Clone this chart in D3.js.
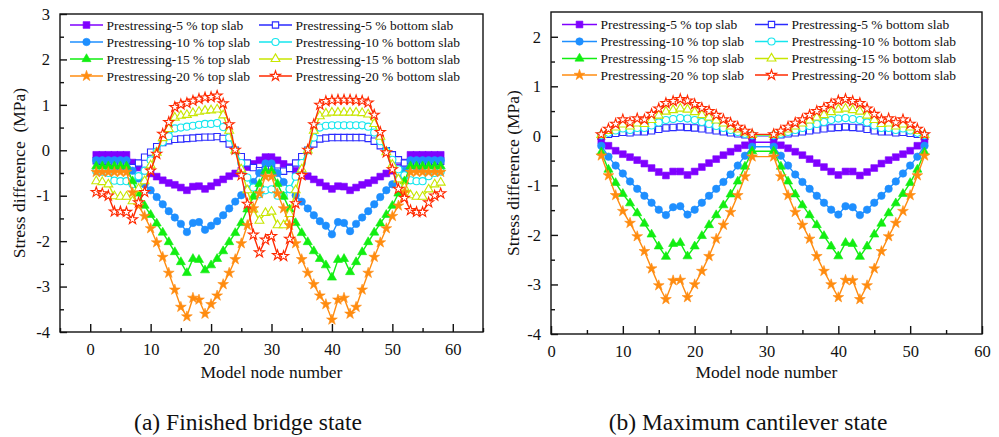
<!DOCTYPE html>
<html><head><meta charset="utf-8">
<script src="https://cdn.jsdelivr.net/npm/d3@7"></script>
<style>
body{margin:0;background:#fff}
svg{display:block}
text{font-family:"Liberation Serif","Times New Roman",serif;fill:#111}
</style>
</head><body>
<svg id="c" width="999" height="437"></svg>
<script>
// ---------------- DATA ----------------
const nodesA = [1,2,3,4,5,6,7,8,9,10,11,12,13,14,15,16,17,18,19,20,21,22,23,24,25,26,27,28,29,30,31,32,33,34,35,36,37,38,39,40,41,42,43,44,45,46,47,48,49,50,51,52,53,54,55,56,57,58];
const nodesB = [7,8,9,10,11,12,13,14,15,16,17,18,19,20,21,22,23,24,25,26,27,28,31,32,33,34,35,36,37,38,39,40,41,42,43,44,45,46,47,48,49,50,51,52];

const seriesNames = ["Prestressing-5 % top slab","Prestressing-5 % bottom slab","Prestressing-10 % top slab","Prestressing-10 % bottom slab","Prestressing-15 % top slab","Prestressing-15 % bottom slab","Prestressing-20 % top slab","Prestressing-20 % bottom slab"];

// (a) Finished bridge state
const topA5 = [-0.10,-0.10,-0.10,-0.10,-0.10,-0.10,-0.27,-0.38,-0.45,-0.51,-0.58,-0.66,-0.72,-0.76,-0.82,-0.88,-0.80,-0.79,-0.85,-0.79,-0.71,-0.64,-0.57,-0.51,-0.45,-0.37,-0.30,-0.22,-0.15,
  -0.15,-0.22,-0.30,-0.37,-0.45,-0.51,-0.57,-0.64,-0.71,-0.79,-0.85,-0.79,-0.80,-0.88,-0.82,-0.76,-0.72,-0.66,-0.58,-0.51,-0.45,-0.38,-0.27,-0.10,-0.10,-0.10,-0.10,-0.10,-0.10];
const botA5 = [-0.23,-0.24,-0.25,-0.34,-0.34,-0.34,-0.38,-0.28,-0.15,-0.04,0.08,0.17,0.21,0.24,0.25,0.26,0.27,0.28,0.29,0.29,0.30,0.26,0.14,0.00,-0.14,-0.28,-0.38,-0.45,-0.42,-0.40,
  -0.46,-0.46,-0.40,-0.28,-0.14,0.00,0.14,0.25,0.27,0.28,0.28,0.28,0.28,0.28,0.28,0.26,0.20,0.10,-0.01,-0.10,-0.21,-0.28,-0.33,-0.34,-0.34,-0.29,-0.25,-0.24];
const topA10 = [-0.22,-0.22,-0.22,-0.22,-0.22,-0.22,-0.45,-0.62,-0.75,-0.88,-1.03,-1.19,-1.34,-1.48,-1.62,-1.80,-1.60,-1.58,-1.75,-1.66,-1.56,-1.43,-1.28,-1.13,-0.99,-0.86,-0.70,-0.50,-0.29,
  -0.29,-0.50,-0.70,-0.86,-0.99,-1.13,-1.28,-1.43,-1.56,-1.66,-1.85,-1.58,-1.60,-1.78,-1.62,-1.48,-1.34,-1.19,-1.03,-0.88,-0.75,-0.62,-0.45,-0.22,-0.22,-0.22,-0.22,-0.22,-0.22];
const botA10 = [-0.46,-0.47,-0.50,-0.67,-0.68,-0.68,-0.75,-0.57,-0.45,-0.22,-0.03,0.18,0.31,0.48,0.50,0.52,0.54,0.56,0.58,0.58,0.60,0.51,0.28,0.00,-0.28,-0.60,-0.82,-0.97,-0.88,-0.86,
  -1.00,-1.00,-0.85,-0.58,-0.28,0.00,0.28,0.50,0.54,0.55,0.55,0.55,0.55,0.55,0.55,0.52,0.39,0.20,-0.02,-0.21,-0.42,-0.55,-0.66,-0.68,-0.68,-0.57,-0.50,-0.47];
const topA15 = [-0.35,-0.35,-0.35,-0.35,-0.35,-0.35,-0.68,-0.95,-1.22,-1.42,-1.61,-1.81,-2.02,-2.24,-2.46,-2.70,-2.39,-2.41,-2.64,-2.53,-2.39,-2.22,-2.02,-1.82,-1.60,-1.30,-1.02,-0.74,-0.45,
  -0.45,-0.74,-1.02,-1.30,-1.60,-1.82,-2.02,-2.22,-2.39,-2.53,-2.80,-2.41,-2.39,-2.68,-2.46,-2.24,-2.02,-1.81,-1.61,-1.42,-1.22,-0.95,-0.68,-0.35,-0.35,-0.35,-0.35,-0.35,-0.35];
const botA15 = [-0.68,-0.70,-0.75,-1.01,-1.02,-1.02,-1.12,-0.85,-0.68,-0.33,-0.05,0.27,0.47,0.72,0.76,0.78,0.82,0.85,0.87,0.88,0.90,0.77,0.43,0.00,-0.42,-0.88,-1.30,-1.55,-1.38,-1.35,
  -1.65,-1.65,-1.40,-0.88,-0.42,0.00,0.43,0.75,0.81,0.83,0.83,0.83,0.83,0.83,0.82,0.79,0.58,0.30,-0.04,-0.32,-0.64,-0.82,-0.99,-1.02,-1.02,-0.86,-0.75,-0.71];
const topA20 = [-0.48,-0.48,-0.48,-0.48,-0.48,-0.48,-0.93,-1.22,-1.45,-1.72,-2.03,-2.35,-2.70,-3.07,-3.45,-3.66,-3.25,-3.29,-3.60,-3.39,-3.20,-2.95,-2.70,-2.40,-2.05,-1.65,-1.28,-0.95,-0.58,
  -0.58,-0.95,-1.28,-1.65,-2.05,-2.40,-2.70,-2.95,-3.20,-3.39,-3.73,-3.29,-3.25,-3.60,-3.45,-3.07,-2.70,-2.35,-2.03,-1.72,-1.45,-1.22,-0.93,-0.48,-0.48,-0.48,-0.48,-0.48,-0.48];
const botA20 = [-0.92,-0.95,-1.00,-1.35,-1.35,-1.36,-1.52,-1.15,-0.92,-0.45,-0.08,0.36,0.62,0.95,1.01,1.04,1.09,1.13,1.16,1.17,1.20,1.03,0.57,0.01,-0.55,-1.18,-1.86,-2.25,-1.97,-1.89,
  -2.31,-2.33,-1.95,-1.17,-0.55,0.01,0.57,1.00,1.08,1.10,1.11,1.11,1.11,1.10,1.09,1.05,0.78,0.40,-0.05,-0.42,-0.85,-1.05,-1.32,-1.36,-1.36,-1.15,-1.00,-0.95];

// (b) Maximum cantilever state
const topB5 = [-0.10,-0.20,-0.30,-0.37,-0.43,-0.49,-0.56,-0.65,-0.73,-0.80,-0.72,-0.72,-0.79,-0.72,-0.63,-0.55,-0.47,-0.39,-0.32,-0.25,-0.19,-0.13,
  -0.13,-0.19,-0.25,-0.32,-0.39,-0.47,-0.55,-0.63,-0.72,-0.79,-0.72,-0.72,-0.80,-0.73,-0.65,-0.56,-0.49,-0.43,-0.37,-0.30,-0.20,-0.10];
const botB5 = [0.00,0.03,0.05,0.07,0.06,0.08,0.08,0.10,0.13,0.16,0.17,0.18,0.17,0.16,0.14,0.12,0.10,0.08,0.06,0.04,0.02,0.00,
  0.00,0.02,0.04,0.06,0.08,0.10,0.12,0.14,0.16,0.17,0.18,0.17,0.16,0.13,0.10,0.08,0.08,0.06,0.07,0.05,0.03,0.00];
const topB10 = [-0.20,-0.42,-0.60,-0.76,-0.92,-1.07,-1.21,-1.35,-1.49,-1.60,-1.44,-1.42,-1.59,-1.49,-1.35,-1.21,-1.07,-0.93,-0.78,-0.60,-0.40,-0.22,
  -0.22,-0.40,-0.60,-0.78,-0.93,-1.07,-1.21,-1.35,-1.49,-1.59,-1.42,-1.44,-1.60,-1.49,-1.35,-1.21,-1.07,-0.92,-0.76,-0.60,-0.42,-0.20];
const botB10 = [0.01,0.06,0.11,0.15,0.12,0.16,0.16,0.21,0.27,0.32,0.34,0.36,0.35,0.32,0.28,0.24,0.20,0.16,0.12,0.08,0.04,0.01,
  0.01,0.04,0.08,0.12,0.16,0.20,0.24,0.28,0.32,0.35,0.36,0.34,0.32,0.27,0.21,0.16,0.16,0.12,0.15,0.11,0.06,0.01];
const topB15 = [-0.33,-0.68,-0.95,-1.17,-1.36,-1.56,-1.77,-1.99,-2.23,-2.44,-2.18,-2.16,-2.43,-2.23,-2.02,-1.80,-1.60,-1.40,-1.18,-0.92,-0.62,-0.31,
  -0.31,-0.62,-0.92,-1.18,-1.40,-1.60,-1.80,-2.02,-2.23,-2.43,-2.16,-2.18,-2.44,-2.23,-1.99,-1.77,-1.56,-1.36,-1.17,-0.95,-0.68,-0.33];
const botB15 = [0.02,0.10,0.17,0.23,0.19,0.25,0.24,0.32,0.41,0.49,0.52,0.55,0.53,0.48,0.42,0.37,0.31,0.25,0.19,0.13,0.07,0.02,
  0.02,0.07,0.13,0.19,0.25,0.31,0.37,0.42,0.48,0.53,0.55,0.52,0.49,0.41,0.32,0.24,0.25,0.19,0.23,0.17,0.10,0.02];
const topB20 = [-0.40,-0.80,-1.20,-1.52,-1.76,-2.03,-2.33,-2.68,-3.02,-3.30,-2.92,-2.91,-3.26,-3.00,-2.73,-2.43,-2.08,-1.80,-1.54,-1.20,-0.82,-0.42,
  -0.42,-0.82,-1.20,-1.54,-1.80,-2.08,-2.43,-2.73,-3.00,-3.26,-2.91,-2.92,-3.30,-3.02,-2.68,-2.33,-2.03,-1.76,-1.52,-1.20,-0.80,-0.40];
const botB20 = [0.03,0.14,0.24,0.33,0.27,0.35,0.33,0.44,0.55,0.66,0.70,0.74,0.71,0.64,0.56,0.50,0.42,0.33,0.26,0.18,0.10,0.03,
  0.03,0.10,0.18,0.26,0.33,0.42,0.50,0.56,0.64,0.71,0.74,0.70,0.66,0.55,0.44,0.33,0.35,0.27,0.33,0.24,0.14,0.03];

// tick values
const xTicksA = [0,10,20,30,40,50,60];
const xMinorA = [-5,5,15,25,35,45,55,65];
const yTicksA = [-4,-3,-2,-1,0,1,2,3];
const yMinorA = [-3.5,-2.5,-1.5,-0.5,0.5,1.5,2.5];
const xTicksB = [0,10,20,30,40,50,60];
const xMinorB = [5,15,25,35,45,55];
const yTicksB = [-4,-3,-2,-1,0,1,2];
const yMinorB = [-3.5,-2.5,-1.5,-0.5,0.5,1.5];

// ---------------- STYLE ----------------
const styles = [
  {color:"#7f00ff", sym:d3.symbolSquare, size:46, fill:true},
  {color:"#2a2aff", sym:d3.symbolSquare, size:40, fill:false},
  {color:"#1e8fff", sym:d3.symbolCircle, size:44, fill:true},
  {color:"#14e6ee", sym:d3.symbolCircle, size:40, fill:false},
  {color:"#11ee11", sym:d3.symbolTriangle, size:36, fill:true},
  {color:"#c8e600", sym:d3.symbolTriangle, size:34, fill:false},
  {color:"#ff8c10", sym:d3.symbolStar, size:36, fill:true},
  {color:"#ff2a00", sym:d3.symbolStar, size:32, fill:false}
];

const svg = d3.select("#c");

function markerAttrs(sel, st){
  sel.attr("d", d3.symbol(st.sym, st.size)())
     .attr("fill", st.fill ? st.color : "#fff")
     .attr("stroke", st.color)
     .attr("stroke-width", st.fill ? 0.6 : 1.1);
}

function panel(cfg){
  const x = d3.scaleLinear().domain(cfg.xdom).range([cfg.x0, cfg.x1]);
  const y = d3.scaleLinear().domain(cfg.ydom).range([cfg.y1, cfg.y0]);
  const g = svg.append("g");

  // series
  cfg.series.forEach((vals, i) => {
    const st = styles[i];
    const pts = cfg.nodes.map((n, j) => [n, vals[j]]);
    g.append("path")
      .attr("d", d3.line().x(d => x(d[0])).y(d => y(d[1]))(pts))
      .attr("fill", "none").attr("stroke", st.color).attr("stroke-width", 1.4);
    g.append("g").selectAll("path").data(pts).join("path")
      .attr("transform", d => `translate(${x(d[0])},${y(d[1])})`)
      .call(markerAttrs, st);
  });

  // frame
  g.append("rect").attr("x", cfg.x0).attr("y", cfg.y0)
    .attr("width", cfg.x1 - cfg.x0).attr("height", cfg.y1 - cfg.y0)
    .attr("fill", "none").attr("stroke", "#111").attr("stroke-width", 1.4);

  const fmt = d => String(d);
  // bottom axis
  const bx = g.append("g").attr("transform", `translate(0,${cfg.y1})`)
    .call(d3.axisBottom(x).tickValues(cfg.xTicks).tickFormat(fmt).tickSizeInner(-8).tickSizeOuter(0).tickPadding(11));
  g.append("g").attr("transform", `translate(0,${cfg.y1})`)
    .call(d3.axisBottom(x).tickValues(cfg.xMinor).tickFormat("").tickSizeInner(-4).tickSizeOuter(0));
  // left axis
  g.append("g").attr("transform", `translate(${cfg.x0},0)`)
    .call(d3.axisLeft(y).tickValues(cfg.yTicks).tickFormat(fmt).tickSizeInner(-7).tickSizeOuter(0).tickPadding(10));
  g.append("g").attr("transform", `translate(${cfg.x0},0)`)
    .call(d3.axisLeft(y).tickValues(cfg.yMinor).tickFormat("").tickSizeInner(-4).tickSizeOuter(0));
  g.selectAll(".domain").remove();
  g.selectAll(".tick line").attr("stroke", "#111").attr("stroke-width", 1.4);
  g.selectAll(".tick text").attr("font-size", 16.5).attr("font-family", "Liberation Serif").attr("fill", "#111");

  // axis titles
  g.append("text").attr("x", (cfg.x0 + cfg.x1) / 2).attr("y", 378)
    .attr("text-anchor", "middle").attr("font-size", 17.5).text("Model node number");
  g.append("text").attr("transform", `translate(${cfg.ytx},${(cfg.y0 + cfg.y1) / 2}) rotate(-90)`)
    .attr("text-anchor", "middle").attr("font-size", 17.5).text(cfg.yTitle);
  // caption
  g.append("text").attr("x", cfg.capX).attr("y", 430)
    .attr("text-anchor", "middle").attr("font-size", 23.5).text(cfg.caption);

  // legend
  const order = [0,2,4,6,1,3,5,7];
  order.forEach((si, k) => {
    const col = k < 4 ? 0 : 1;
    const row = k % 4;
    const ly = cfg.legRows[row];
    const lx0 = cfg.legCols[col][0], lx1 = cfg.legCols[col][1];
    const st = styles[si];
    g.append("line").attr("x1", lx0).attr("x2", lx1).attr("y1", ly).attr("y2", ly)
      .attr("stroke", st.color).attr("stroke-width", 1.6);
    g.append("path").attr("transform", `translate(${(lx0 + lx1) / 2},${ly})`).call(markerAttrs, st);
    g.append("text").attr("x", lx1 + 3.5).attr("y", ly + 4.6).attr("font-size", 13.5).text(seriesNames[si]);
  });
}

panel({
  x0: 60, x1: 483, y0: 14, y1: 332,
  xdom: [-5, 65], ydom: [-4, 3],
  xTicks: xTicksA, xMinor: xMinorA, yTicks: yTicksA, yMinor: yMinorA,
  nodes: nodesA,
  series: [topA5, botA5, topA10, botA10, topA15, botA15, topA20, botA20],
  yTitle: "Stress difference\u00a0\u00a0(MPa)", ytx: 25,
  caption: "(a) Finished bridge state", capX: 248,
  legRows: [25, 42, 59, 76], legCols: [[70, 103], [259, 292]]
});

panel({
  x0: 551, x1: 982, y0: 12, y1: 334,
  xdom: [0, 60], ydom: [-4, 2.5],
  xTicks: xTicksB, xMinor: xMinorB, yTicks: yTicksB, yMinor: yMinorB,
  nodes: nodesB,
  series: [topB5, botB5, topB10, botB10, topB15, botB15, topB20, botB20],
  yTitle: "Stress difference (MPa)", ytx: 519,
  caption: "(b) Maximum cantilever state", capX: 748,
  legRows: [24.5, 41.5, 58.5, 75], legCols: [[562, 597], [755, 788]]
});
</script>
</body></html>
